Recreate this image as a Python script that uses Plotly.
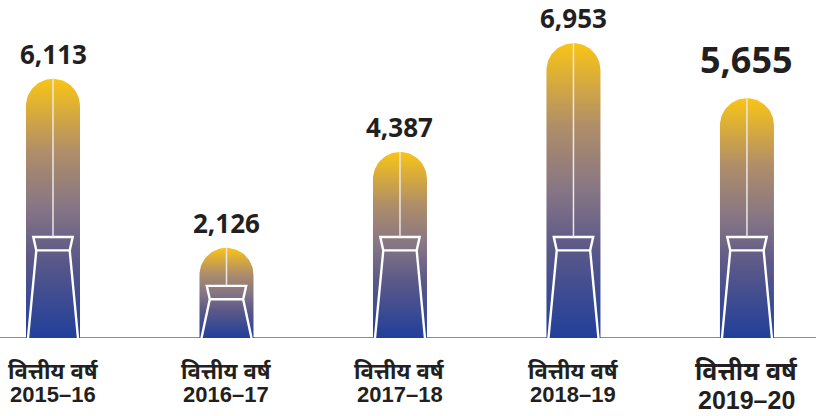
import math
import plotly.graph_objects as go

# Financial-year totals
years = ["2015–16", "2016–17", "2017–18", "2018–19", "2019–20"]
values = [6113, 2126, 4387, 6953, 5655]
value_text = ["6,113", "2,126", "4,387", "6,953", "5,655"]
year_prefix = "वित्तीय वर्ष"

W, H = 816, 416
M_L, M_R, M_T, M_B = 0, 0, 20, 78
X_RANGE = [-0.3055, 4.398]
Y_RANGE = [0, 7500]
plot_w = W - M_L - M_R
plot_h = H - M_T - M_B
px_x = plot_w / (X_RANGE[1] - X_RANGE[0])   # pixels per x unit
px_y = plot_h / (Y_RANGE[1] - Y_RANGE[0])   # pixels per y unit


def dx(p):
    return p / px_x


def dy(p):
    return p / px_y


GRADIENT = [
    [0.0, "#213f9b"],
    [0.3, "#5a5888"],
    [0.5, "#867585"],
    [0.72, "#b08e68"],
    [1.0, "#f9c416"],
]
TEXT = "#231f20"
LABEL_FONT = "Liberation Sans, Noto Sans, sans-serif"

fig = go.Figure()

half = dx(27)      # half bar width
ry = dy(27)        # radius of the rounded top, in y units

for i, v in enumerate(values):
    c = i
    # rounded-top column outline
    xs = [c - half, c + half]
    ys = [0, 0]
    base = v - ry
    xs.append(c + half)
    ys.append(base)
    n = 40
    for k in range(n + 1):
        a = math.pi * k / n
        xs.append(c + half * math.cos(a))
        ys.append(base + ry * math.sin(a))
    xs.append(c - half)
    ys.append(0)
    fig.add_trace(go.Scatter(
        x=xs, y=ys, mode="lines", fill="toself",
        line=dict(width=0, color="rgba(0,0,0,0)"),
        fillgradient=dict(type="vertical", colorscale=GRADIENT, start=0, stop=v),
        hoverinfo="skip", showlegend=False,
    ))

    # lamp outline inside the column
    bar_px = v * px_y
    lamp_h = min(101, bar_px - 38)
    cap_h = 13.4
    top = dy(lamp_h)
    neck = dy(lamp_h - cap_h)
    lx = [c - dx(25), c - dx(16.7), c - dx(19.7), c + dx(19.7), c + dx(16.7), c + dx(25),
          None, c - dx(16.7), c + dx(16.7)]
    ly = [0, neck, top, top, neck, 0, None, neck, neck]
    fig.add_trace(go.Scatter(
        x=lx, y=ly, mode="lines",
        line=dict(color="white", width=2.4),
        hoverinfo="skip", showlegend=False,
    ))
    # wick line from the top of the column down to the lamp
    fig.add_trace(go.Scatter(
        x=[c, c], y=[v, top], mode="lines",
        line=dict(color="#ece6e4", width=1.5),
        hoverinfo="skip", showlegend=False,
    ))

    last = i == len(values) - 1
    fig.add_annotation(
        x=c, y=v, xref="x", yref="y", text=f"<b>{value_text[i]}</b>",
        showarrow=False, yanchor="bottom", yshift=12 if last else 5,
        font=dict(family="Open Sans", size=36 if last else 26, color=TEXT),
    )
    # two-line category label under the baseline
    fig.add_annotation(
        x=c, y=0, xref="x", yref="paper", text=f"<b>{year_prefix}</b>",
        showarrow=False, yanchor="middle", yshift=-33,
        borderpad=0,
        font=dict(family=LABEL_FONT, size=25 if last else 22, color=TEXT),
    )
    fig.add_annotation(
        x=c, y=0, xref="x", yref="paper", text=f"<b>{years[i]}</b>",
        showarrow=False, yanchor="middle", yshift=-62 if last else -56,
        borderpad=0,
        font=dict(family=LABEL_FONT, size=25 if last else 22, color=TEXT),
    )

fig.add_shape(type="line", xref="paper", yref="y", x0=0, x1=1, y0=0, y1=0,
              line=dict(color="#8c8c8c", width=2), layer="below")

fig.update_layout(
    width=W, height=H,
    margin=dict(l=M_L, r=M_R, t=M_T, b=M_B),
    paper_bgcolor="white", plot_bgcolor="white",
    xaxis=dict(range=X_RANGE, visible=False, fixedrange=True),
    yaxis=dict(range=Y_RANGE, visible=False, fixedrange=True),
    showlegend=False,
)

fig.write_html("out.html")
